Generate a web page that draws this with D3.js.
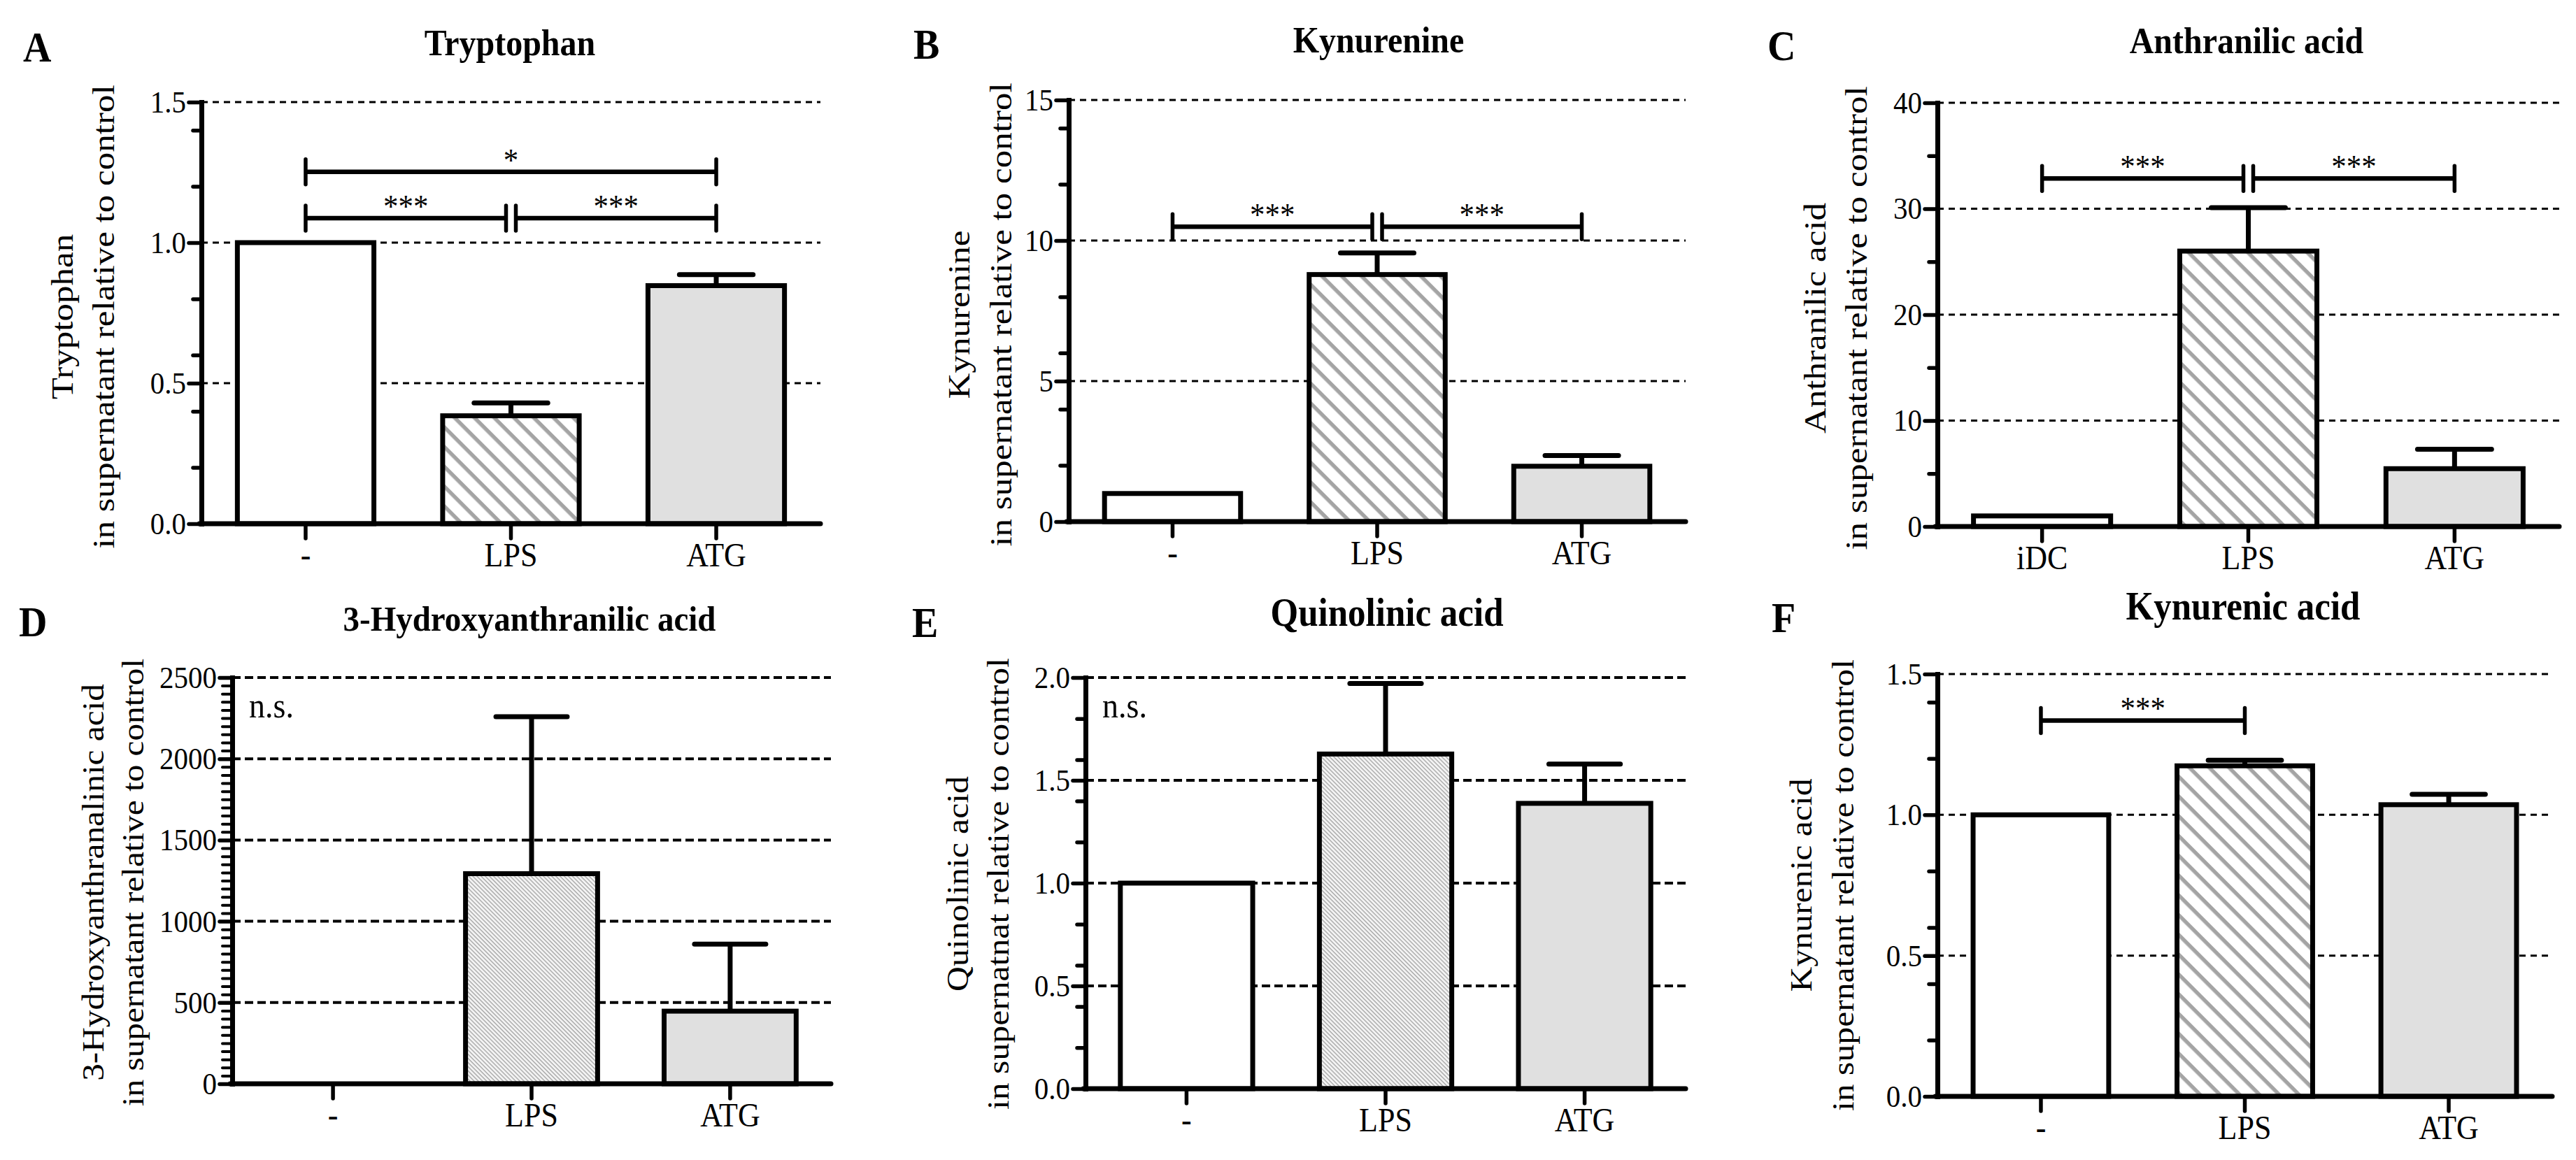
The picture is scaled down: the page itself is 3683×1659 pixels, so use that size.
<!DOCTYPE html>
<html><head><meta charset="utf-8">
<script src="https://cdn.jsdelivr.net/npm/d3@7/dist/d3.min.js"></script>
<style>html,body{margin:0;padding:0;background:#fff;} svg{display:block;}</style>
</head><body>
<svg id="fig" width="3683" height="1659"></svg>
<script>
// ---------------- DATA ----------------
const groups = ["-", "LPS", "ATG"];
const groupsC = ["iDC", "LPS", "ATG"];

const tryptophan = [1.0, 0.384, 0.847];
const tryptophanErr = [0, 0.046, 0.039];
const kynurenine = [1.0, 8.79, 1.97];
const kynurenineErr = [0, 0.77, 0.38];
const anthranilic = [1.0, 26.0, 5.46];
const anthranilicErr = [0, 4.1, 1.84];
const hydroxyanthranilic = [1, 1293, 447];
const hydroxyanthranilicErr = [0, 966, 412];
const quinolinic = [1.0, 1.628, 1.388];
const quinolinicErr = [0, 0.343, 0.191];
const kynurenic = [1.0, 1.174, 1.036];
const kynurenicErr = [0, 0.02, 0.037];

const ticksA = [0, 0.5, 1.0, 1.5];
const tickLabelsA = ["0.0", "0.5", "1.0", "1.5"];
const ticksB = [0, 5, 10, 15];
const tickLabelsB = ["0", "5", "10", "15"];
const ticksC = [0, 10, 20, 30, 40];
const tickLabelsC = ["0", "10", "20", "30", "40"];
const ticksD = [0, 500, 1000, 1500, 2000, 2500];
const tickLabelsD = ["0", "500", "1000", "1500", "2000", "2500"];
const ticksE = [0, 0.5, 1.0, 1.5, 2.0];
const tickLabelsE = ["0.0", "0.5", "1.0", "1.5", "2.0"];
const ticksF = [0, 0.5, 1.0, 1.5];
const tickLabelsF = ["0.0", "0.5", "1.0", "1.5"];

const sigA = [{a: 0, b: 2, y: 1.252, t: "*"}, {a: 0, b: 1, y: 1.087, t: "***"}, {a: 1, b: 2, y: 1.087, t: "***"}];
const sigB = [{a: 0, b: 1, y: 10.49, t: "***"}, {a: 1, b: 2, y: 10.49, t: "***"}];
const sigC = [{a: 0, b: 1, y: 32.85, t: "***"}, {a: 1, b: 2, y: 32.85, t: "***"}];
const sigF = [{a: 0, b: 1, y: 1.335, t: "***"}];

// ---------------- LAYOUT ----------------
const SERIF = "'Liberation Serif','Times New Roman',serif";
const VS = 1.1; // vertical stretch of glyphs seen in the reference
const svg = d3.select("#fig");
const defs = svg.append("defs");
const hatch = defs.append("pattern").attr("id", "hatch").attr("patternUnits", "userSpaceOnUse")
  .attr("width", 20).attr("height", 20).attr("patternTransform", "rotate(45)");
hatch.append("rect").attr("width", 20).attr("height", 20).attr("fill", "#fff");
hatch.append("rect").attr("width", 20).attr("height", 5.5).attr("fill", "#a4a4a4");
const fine = defs.append("pattern").attr("id", "fine").attr("patternUnits", "userSpaceOnUse")
  .attr("width", 4.2).attr("height", 4.2).attr("patternTransform", "rotate(45)");
fine.append("rect").attr("width", 4.2).attr("height", 4.2).attr("fill", "#f4f4f4");
fine.append("rect").attr("width", 4.2).attr("height", 1.4).attr("fill", "#a8a8a8");

const panels = [
  {letter: "A", title: "Tryptophan", yt1: "Tryptophan", yt2: "in supernatant relative to control",
   cats: groups, values: tryptophan, errs: tryptophanErr, max: 1.5, ticks: ticksA, labels: tickLabelsA,
   minorN: 6, sig: sigA, fills: ["#fff", "url(#hatch)", "#e0e0e0"],
   x0: 288, x1: 1173, yTop: 146, yBot: 749, tx: 729, ty: 79, tfs: 48, lx: 33, ly: 88,
   ytx1: 104, ytx2: 163, yty: 453, ytvs: 1.16, dash: "9,7", gw: 3},
  {letter: "B", title: "Kynurenine", yt1: "Kynurenine", yt2: "in supernatant relative to control",
   cats: groups, values: kynurenine, errs: kynurenineErr, max: 15, ticks: ticksB, labels: tickLabelsB,
   minorN: 6, sig: sigB, fills: ["#fff", "url(#hatch)", "#e0e0e0"],
   x0: 1528, x1: 2410, yTop: 143, yBot: 746, tx: 1971, ty: 75, tfs: 48, lx: 1306, ly: 84,
   ytx1: 1386, ytx2: 1446, yty: 450, ytvs: 1.16, dash: "9,7", gw: 3},
  {letter: "C", title: "Anthranilic acid", yt1: "Anthranilic acid", yt2: "in supernatant relative to control",
   cats: groupsC, values: anthranilic, errs: anthranilicErr, max: 40, ticks: ticksC, labels: tickLabelsC,
   minorN: 8, sig: sigC, fills: ["#fff", "url(#hatch)", "#e0e0e0"],
   x0: 2770, x1: 3659, yTop: 147, yBot: 753, tx: 3212, ty: 76, tfs: 48, lx: 2527, ly: 86,
   ytx1: 2610, ytx2: 2669, yty: 455, ytvs: 1.16, dash: "9,7", gw: 3},
  {letter: "D", title: "3-Hydroxyanthranilic acid", yt1: "3-Hydroxyanthranalinic acid", yt2: "in supernatant relative to control",
   cats: groups, values: hydroxyanthranilic, errs: hydroxyanthranilicErr, max: 2500, ticks: ticksD, labels: tickLabelsD,
   minorN: 50, sig: [], ns: true, fills: ["#fff", "url(#fine)", "#e0e0e0"],
   x0: 332, x1: 1188, yTop: 969, yBot: 1550, tx: 757, ty: 902, tfs: 47, lx: 27, ly: 910,
   ytx1: 148, ytx2: 205, yty: 1262, ytvs: 1.12, dash: "12,6", gw: 4},
  {letter: "E", title: "Quinolinic acid", yt1: "Quinolinic acid", yt2: "in supernatnat relative to control",
   cats: groups, values: quinolinic, errs: quinolinicErr, max: 2.0, ticks: ticksE, labels: tickLabelsE,
   minorN: 8, sig: [], ns: true, fills: ["#fff", "url(#fine)", "#e0e0e0"],
   x0: 1552, x1: 2410, yTop: 969, yBot: 1557, tx: 1983, ty: 895, tfs: 51, lx: 1304, ly: 911,
   ytx1: 1384, ytx2: 1442, yty: 1264, ytvs: 1.13, dash: "12,6", gw: 4},
  {letter: "F", title: "Kynurenic acid", yt1: "Kynurenic acid", yt2: "in supernatant relative to control",
   cats: groups, values: kynurenic, errs: kynurenicErr, max: 1.5, ticks: ticksF, labels: tickLabelsF,
   minorN: 6, sig: sigF, fills: ["#fff", "url(#hatch)", "#e0e0e0"],
   x0: 2770, x1: 3649, yTop: 964, yBot: 1568, tx: 3207, ty: 886, tfs: 51, lx: 2533, ly: 904,
   ytx1: 2590, ytx2: 2650, yty: 1266, ytvs: 1.13, dash: "9,7", gw: 3}
];

function label(g, x, y, txt, size, opts = {}) {
  const rot = opts.rotate ? " rotate(-90)" : "";
  const vs = opts.vs || VS;
  return g.append("text")
    .attr("transform", `translate(${x},${y}) scale(1,${vs})${rot}`)
    .attr("text-anchor", opts.anchor || "start")
    .attr("font-family", SERIF).attr("font-size", size)
    .attr("font-weight", opts.bold ? "bold" : "normal")
    .attr("fill", "#000").text(txt);
}

function drawPanel(p) {
  const g = svg.append("g");
  const y = d3.scaleLinear().domain([0, p.max]).range([p.yBot, p.yTop]);
  const x = d3.scaleBand().domain(p.cats).range([p.x0, p.x1]).paddingInner(0.335).paddingOuter(0.175);
  const bw = x.bandwidth();
  const cx = i => x(p.cats[i]) + bw / 2;

  // dashed gridlines
  g.append("g").selectAll("line").data(p.ticks.filter(t => t > 0)).join("line")
    .attr("x1", p.x0).attr("x2", p.x1).attr("y1", d => y(d)).attr("y2", d => y(d))
    .attr("stroke", "#000").attr("stroke-width", p.gw).attr("stroke-dasharray", p.dash);

  // bars (bars thinner than a pixel vanish into the axis, as in the original)
  g.append("g").selectAll("rect").data(p.values).join("rect")
    .attr("x", (d, i) => x(p.cats[i])).attr("width", bw)
    .attr("y", d => y(d)).attr("height", d => Math.max(0, y(0) - y(d)))
    .attr("fill", (d, i) => p.fills[i])
    .attr("stroke", d => (y(0) - y(d)) < 2 ? "none" : "#000").attr("stroke-width", 7)
    .attr("stroke-linejoin", "miter");

  // error bars (upper only)
  const eg = g.append("g").attr("stroke", "#000").attr("stroke-width", 7);
  p.values.forEach((v, i) => {
    const e = p.errs[i];
    if (!e) return;
    eg.append("line").attr("x1", cx(i)).attr("x2", cx(i)).attr("y1", y(v)).attr("y2", y(v + e));
    eg.append("line").attr("x1", cx(i) - bw * 0.27).attr("x2", cx(i) + bw * 0.27)
      .attr("y1", y(v + e)).attr("y2", y(v + e)).attr("stroke-linecap", "round");
  });

  // x axis line
  g.append("line").attr("x1", p.x0 - 3).attr("x2", p.x1).attr("y1", y(0)).attr("y2", y(0))
    .attr("stroke", "#000").attr("stroke-width", 7).attr("stroke-linecap", "round");
  const xa = g.append("g").attr("transform", `translate(0,${y(0)})`)
    .call(d3.axisBottom(x).tickSize(21).tickPadding(10));
  xa.select(".domain").remove();
  xa.selectAll(".tick line").attr("stroke-width", 5.5).attr("stroke-linecap", "round");
  xa.selectAll(".tick text").attr("font-family", SERIF).attr("font-size", 44).attr("fill", "#000")
    .attr("y", 0).attr("dy", null).attr("transform", `translate(0,61) scale(1,${VS})`);

  // y axis minor ticks
  const minorVals = y.ticks(p.minorN).filter(t => !p.ticks.some(m => Math.abs(m - t) < 1e-9));
  const ym = g.append("g").attr("transform", `translate(${p.x0},0)`)
    .call(d3.axisLeft(y).tickValues(minorVals).tickFormat("").tickSize(p.minorN > 20 ? 14 : 12).tickSizeOuter(0));
  ym.select(".domain").remove();
  ym.selectAll(".tick line").attr("stroke-width", p.minorN > 20 ? 4 : 5.5).attr("stroke-linecap", "round");

  // y axis major
  const ya = g.append("g").attr("transform", `translate(${p.x0},0)`)
    .call(d3.axisLeft(y).tickValues(p.ticks).tickFormat((d, i) => p.labels[i]).tickSize(18).tickSizeOuter(0).tickPadding(4));
  ya.select(".domain").attr("stroke-width", 7).attr("stroke-linecap", "square");
  ya.selectAll(".tick line").attr("stroke-width", 5.5).attr("stroke-linecap", "round");
  ya.selectAll(".tick text").attr("font-family", SERIF).attr("font-size", 41).attr("fill", "#000")
    .attr("x", 0).attr("transform", `translate(-22,0) scale(1,${VS})`);

  // significance brackets
  const sg = g.append("g");
  p.sig.forEach(s => {
    let xa1 = cx(s.a), xa2 = cx(s.b);
    if (p.sig.some(o => o !== s && o.y === s.y && o.b === s.a)) xa1 += 7;
    if (p.sig.some(o => o !== s && o.y === s.y && o.a === s.b)) xa2 -= 7;
    const yy = y(s.y);
    sg.append("line").attr("x1", xa1).attr("x2", xa2).attr("y1", yy).attr("y2", yy)
      .attr("stroke", "#000").attr("stroke-width", 6.5);
    [xa1, xa2].forEach(xx => sg.append("line").attr("x1", xx).attr("x2", xx)
      .attr("y1", yy - 18).attr("y2", yy + 18).attr("stroke", "#000").attr("stroke-width", 5.5)
      .attr("stroke-linecap", "round"));
    label(sg, (xa1 + xa2) / 2, yy - 1, s.t, 43, {anchor: "middle"});
  });
  if (p.ns) label(g, p.x0 + 24, p.yTop + 57, "n.s.", 46);

  // titles
  label(g, p.tx, p.ty, p.title, p.tfs, {anchor: "middle", bold: true});
  label(g, p.lx, p.ly, p.letter, 56, {bold: true});
  label(g, p.ytx1, p.yty, p.yt1, 44, {anchor: "middle", rotate: true, vs: p.ytvs});
  label(g, p.ytx2, p.yty, p.yt2, 44, {anchor: "middle", rotate: true, vs: p.ytvs});
}

panels.forEach(drawPanel);
</script>
</body></html>
